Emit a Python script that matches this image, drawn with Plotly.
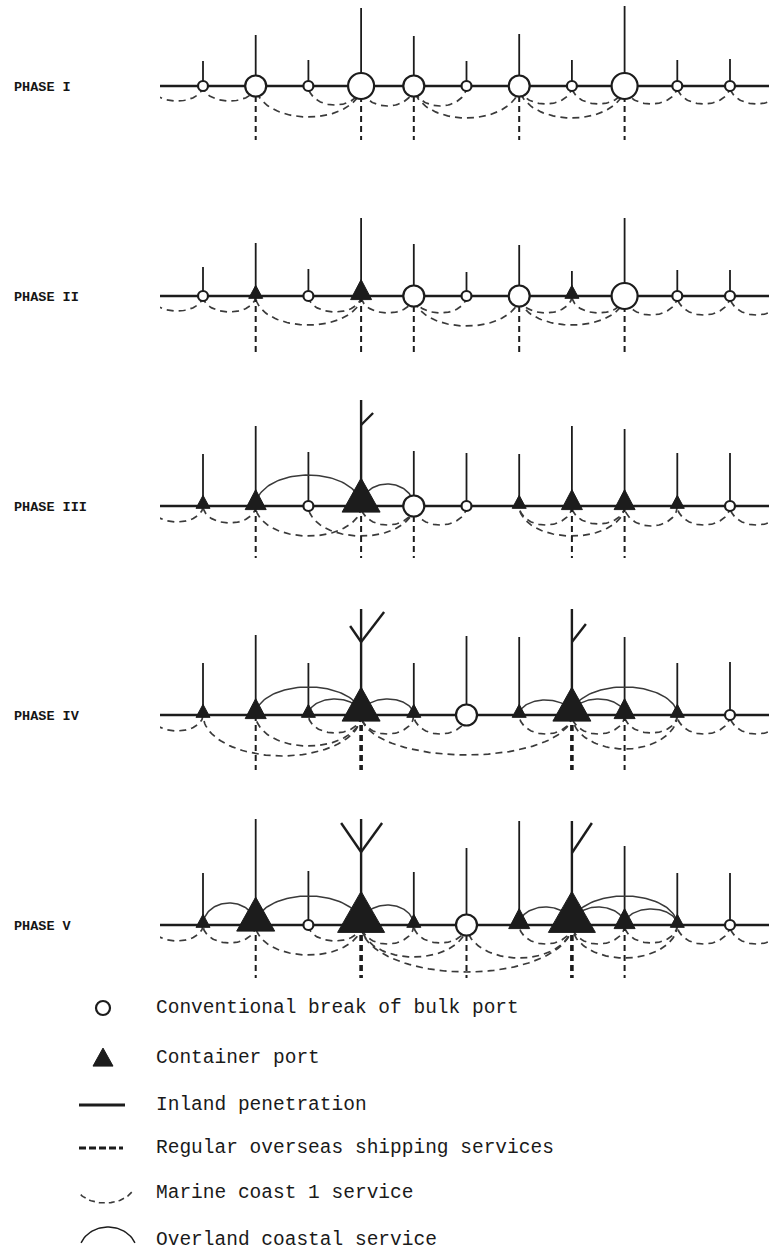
import numpy as np
import plotly.graph_objects as go

# ---------------- data ----------------
phase_labels = ["PHASE I", "PHASE II", "PHASE III", "PHASE IV", "PHASE V"]
ports = list(range(11))

# port type per port: c = conventional (circle), t = container (triangle); digit = size class
types_p1 = ["c1", "c2", "c1", "c3", "c2", "c1", "c2", "c1", "c3", "c1", "c1"]
types_p2 = ["c1", "t1", "c1", "t2", "c2", "c1", "c2", "t1", "c3", "c1", "c1"]
types_p3 = ["t1", "t2", "c1", "t3", "c2", "c1", "t1", "t2", "t2", "t1", "c1"]
types_p4 = ["t1", "t2", "t1", "t3", "t1", "c2", "t1", "t3", "t2", "t1", "c1"]
types_p5 = ["t1", "t3", "c1", "t4", "t1", "c2", "t2", "t4", "t2", "t1", "c1"]

# inland penetration length per port
inland_p1 = [25, 51, 26, 78, 50, 25, 52, 26, 80, 26, 27]
inland_p2 = [29, 53, 27, 78, 52, 24, 51, 25, 78, 26, 26]
inland_p3 = [52, 80, 54, 106, 55, 53, 52, 80, 77, 53, 53]
inland_p4 = [52, 80, 52, 106, 52, 79, 78, 106, 78, 52, 53]
inland_p5 = [52, 106, 54, 106, 53, 77, 104, 104, 79, 52, 52]

# inland branches: (port, fork height, arm offset, arm top height)
forks_p1 = []
forks_p2 = []
forks_p3 = [(3, 81, 12, 93)]
forks_p4 = [(3, 73, -11, 89), (3, 73, 23, 103), (7, 73, 14, 91)]
forks_p5 = [(3, 73, -20, 102), (3, 73, 21, 102), (7, 72, 20, 102)]

# regular overseas shipping services (ports), and heavy ones
overseas_p1 = [1, 3, 4, 6, 8]
overseas_p2 = [1, 3, 4, 6, 8]
overseas_p3 = [1, 3, 4, 7, 8]
overseas_p4 = [1, 3, 7, 8]
overseas_p5 = [1, 3, 5, 7, 8]
heavy_overseas_p4 = [3, 7]
heavy_overseas_p5 = [3, 7]
overseas_length = [54, 56, 52, 55, 53]

# marine coastal services: (from port, to port, depth)
marine_p1 = [(-1, 0, 15), (0, 1, 15), (1, 3, 31), (2, 3, 19), (3, 4, 20), (4, 5, 20),
             (4, 6, 32), (6, 7, 18), (6, 8, 32), (7, 8, 18), (8, 9, 18), (9, 10, 18), (10, 11, 18)]
marine_p2 = [(-1, 0, 15), (0, 1, 16), (1, 3, 29), (2, 3, 16), (3, 4, 17), (4, 5, 17),
             (4, 6, 30), (6, 7, 17), (6, 8, 29), (7, 8, 17), (8, 9, 19), (9, 10, 19), (10, 11, 19)]
marine_p3 = [(-1, 0, 16), (0, 1, 17), (1, 3, 30), (2, 4, 30), (3, 4, 19), (4, 5, 19),
             (6, 7, 19), (6, 8, 30), (7, 8, 18), (8, 9, 20), (9, 10, 19), (10, 11, 19)]
marine_p4 = [(-1, 0, 16), (0, 3, 41), (1, 3, 31), (2, 3, 18), (3, 4, 19), (3, 7, 40),
             (4, 5, 19), (6, 7, 19), (7, 8, 19), (7, 9, 34), (8, 9, 18), (9, 10, 19), (10, 11, 19)]
marine_p5 = [(-1, 0, 16), (0, 1, 18), (1, 3, 30), (2, 3, 16), (3, 4, 19), (3, 5, 32),
             (3, 7, 47), (4, 5, 18), (5, 7, 33), (6, 7, 19), (7, 8, 19), (7, 9, 33),
             (8, 9, 18), (9, 10, 19), (10, 11, 19)]

# overland coastal services: (from port, to port, height)
overland_p1 = []
overland_p2 = []
overland_p3 = [(1, 3, 31), (3, 4, 22)]
overland_p4 = [(1, 3, 28), (2, 3, 16), (3, 4, 16), (6, 7, 15), (7, 8, 16), (7, 9, 28)]
overland_p5 = [(0, 1, 22), (1, 3, 29), (3, 4, 20), (6, 7, 18), (7, 8, 18), (7, 9, 29), (8, 9, 16)]

legend_labels = ["Conventional break of bulk port", "Container port", "Inland penetration",
                 "Regular overseas shipping services", "Marine coast 1 service",
                 "Overland coastal service"]

phase_types = [types_p1, types_p2, types_p3, types_p4, types_p5]
phase_inland = [inland_p1, inland_p2, inland_p3, inland_p4, inland_p5]
phase_forks = [forks_p1, forks_p2, forks_p3, forks_p4, forks_p5]
phase_overseas = [overseas_p1, overseas_p2, overseas_p3, overseas_p4, overseas_p5]
phase_heavy = [[], [], [], heavy_overseas_p4, heavy_overseas_p5]
phase_marine = [marine_p1, marine_p2, marine_p3, marine_p4, marine_p5]
phase_overland = [overland_p1, overland_p2, overland_p3, overland_p4, overland_p5]

# ---------------- layout / style ----------------
W, H = 769, 1256
X0_PX, STEP = 203.0, 52.7          # pixel of port 0, pixels per port
DIAG_LEFT = 160.0
baselines = [86, 296, 506, 715, 925]
legend_y = [1008, 1058, 1105, 1148, 1193, 1240]
INK = "#1c1c1c"
ARC = "#3a3a3a"
FONT = "Liberation Mono"

circle_size = {"c1": 10, "c2": 21, "c3": 26}
tri_size = {"t1": (14, 13), "t2": (21, 20), "t3": (38, 34), "t4": (47, 41)}


def u(px):
    return px / STEP


def seg(xs, ys, x0, y0, x1, y1):
    xs += [x0, x1, None]
    ys += [y0, y1, None]


def arc(xs, ys, a, b, d, base, sign):
    t = np.linspace(0, np.pi, 61)
    c, r = (a + b) / 2.0, (b - a) / 2.0
    xs += list(c + r * np.cos(t)) + [None]
    ys += list(base + sign * d * np.sin(t)) + [None]


fig = go.Figure()

base_x, base_y = [], []
inl_x, inl_y = [], []
fork_x, fork_y = [], []
ov_x, ov_y = [], []
ovh_x, ovh_y = [], []
mar_x, mar_y = [], []
ol_x, ol_y = [], []
cir_x, cir_y, cir_s = [], [], []
tri_x, tri_y = [], []

for k in range(5):
    b = baselines[k]
    seg(base_x, base_y, -2, b, 12, b)
    forked = {f[0] for f in phase_forks[k]}
    for i in ports:
        L = phase_inland[k][i]
        if i in forked:
            seg(fork_x, fork_y, i, b, i, b - L)
        else:
            seg(inl_x, inl_y, i, b, i, b - L)
    for (p, fh, dx, top) in phase_forks[k]:
        seg(fork_x, fork_y, p, b - fh, p + u(dx), b - top)
    for p in phase_overseas[k]:
        if p in phase_heavy[k]:
            seg(ovh_x, ovh_y, p, b, p, b + overseas_length[k])
        else:
            seg(ov_x, ov_y, p, b, p, b + overseas_length[k])
    for (a, c, d) in phase_marine[k]:
        arc(mar_x, mar_y, a, c, d, b, +1)
    for (a, c, h) in phase_overland[k]:
        arc(ol_x, ol_y, a, c, h, b, -1)
    for i in ports:
        t = phase_types[k][i]
        if t.startswith("c"):
            cir_x.append(i)
            cir_y.append(b)
            cir_s.append(circle_size[t])
        else:
            w, h = tri_size[t]
            tri_x += [i - u(w / 2), i + u(w / 2), i, i - u(w / 2), None]
            tri_y += [b + 0.18 * h, b + 0.18 * h, b - 0.82 * h, b + 0.18 * h, None]

line_traces = [
    (base_x, base_y, dict(color=INK, width=2.6)),
    (inl_x, inl_y, dict(color=INK, width=1.8)),
    (fork_x, fork_y, dict(color=INK, width=2.4)),
    (ol_x, ol_y, dict(color=ARC, width=1.5)),
    (mar_x, mar_y, dict(color=ARC, width=1.7, dash="7px,5px")),
    (ov_x, ov_y, dict(color=INK, width=2.0, dash="6px,4px")),
    (ovh_x, ovh_y, dict(color=INK, width=3.6, dash="6px,4px")),
]
for xs, ys, ln in line_traces:
    fig.add_trace(go.Scatter(x=xs, y=ys, mode="lines", line=ln, hoverinfo="skip",
                             showlegend=False, xaxis="x", yaxis="y"))

fig.add_trace(go.Scatter(x=tri_x, y=tri_y, mode="lines", fill="toself", fillcolor=INK,
                         line=dict(color=INK, width=1), hoverinfo="skip", showlegend=False,
                         xaxis="x", yaxis="y"))
fig.add_trace(go.Scatter(x=cir_x, y=cir_y, mode="markers",
                         marker=dict(symbol="circle", size=cir_s, color="white", opacity=1,
                                     line=dict(color=INK, width=2.2)),
                         hoverinfo="skip", showlegend=False, xaxis="x", yaxis="y"))

# ---------------- key (drawn in page pixels on a second axis pair) ----------------
fig.add_trace(go.Scatter(x=[103], y=[legend_y[0]], mode="markers",
                         marker=dict(symbol="circle", size=14, color="white", opacity=1,
                                     line=dict(color=INK, width=2.2)),
                         hoverinfo="skip", showlegend=False, xaxis="x2", yaxis="y2"))
tw, th = 20, 18
ty = legend_y[1]
fig.add_trace(go.Scatter(x=[103 - tw / 2, 103 + tw / 2, 103, 103 - tw / 2],
                         y=[ty + 0.45 * th, ty + 0.45 * th, ty - 0.55 * th, ty + 0.45 * th],
                         mode="lines", fill="toself", fillcolor=INK, line=dict(color=INK, width=1),
                         hoverinfo="skip", showlegend=False, xaxis="x2", yaxis="y2"))
fig.add_trace(go.Scatter(x=[79, 125], y=[legend_y[2]] * 2, mode="lines",
                         line=dict(color=INK, width=3), hoverinfo="skip", showlegend=False,
                         xaxis="x2", yaxis="y2"))
fig.add_trace(go.Scatter(x=[79, 123], y=[legend_y[3]] * 2, mode="lines",
                         line=dict(color=INK, width=3, dash="7px,3px"), hoverinfo="skip",
                         showlegend=False, xaxis="x2", yaxis="y2"))
tt = np.linspace(0.15 * np.pi, 0.85 * np.pi, 40)
fig.add_trace(go.Scatter(x=list(105 + 30 * np.cos(tt)), y=list(legend_y[4] - 10 + 20 * np.sin(tt)),
                         mode="lines", line=dict(color=ARC, width=1.6, dash="6px,4px"),
                         hoverinfo="skip", showlegend=False, xaxis="x2", yaxis="y2"))
tt2 = np.linspace(0.12 * np.pi, 0.88 * np.pi, 40)
fig.add_trace(go.Scatter(x=list(108 + 29 * np.cos(tt2)), y=list(legend_y[5] + 12 - 25 * np.sin(tt2)),
                         mode="lines", line=dict(color=INK, width=1.5),
                         hoverinfo="skip", showlegend=False, xaxis="x2", yaxis="y2"))

annotations = []
for k, lab in enumerate(phase_labels):
    annotations.append(dict(x=12, y=baselines[k] + 1, xref="x2", yref="y2", text=lab,
                            showarrow=False, xanchor="left", yanchor="middle",
                            font=dict(family=FONT, size=13.5, color="#151515", weight="bold")))
for j, lab in enumerate(legend_labels):
    annotations.append(dict(x=154, y=legend_y[j], xref="x2", yref="y2", text=lab,
                            showarrow=False, xanchor="left", yanchor="middle",
                            font=dict(family=FONT, size=19.5, color="#1a1a1a")))

fig.update_layout(
    width=W, height=H, margin=dict(l=0, r=0, t=0, b=0),
    paper_bgcolor="white", plot_bgcolor="rgba(0,0,0,0)", showlegend=False,
    hovermode=False,
    xaxis=dict(domain=[DIAG_LEFT / W, 1], range=[(DIAG_LEFT - X0_PX) / STEP, (W - X0_PX) / STEP],
               visible=False, fixedrange=True, anchor="y"),
    yaxis=dict(domain=[0, 1], range=[H, 0], visible=False, fixedrange=True, anchor="x"),
    xaxis2=dict(domain=[0, 1], range=[0, W], visible=False, fixedrange=True, anchor="y2"),
    yaxis2=dict(domain=[0, 1], range=[H, 0], visible=False, fixedrange=True, anchor="x2"),
    annotations=annotations,
)

fig.write_html("out.html", config={"displayModeBar": False},
               post_script="document.body.style.margin='0px';document.body.style.overflow='hidden';")
